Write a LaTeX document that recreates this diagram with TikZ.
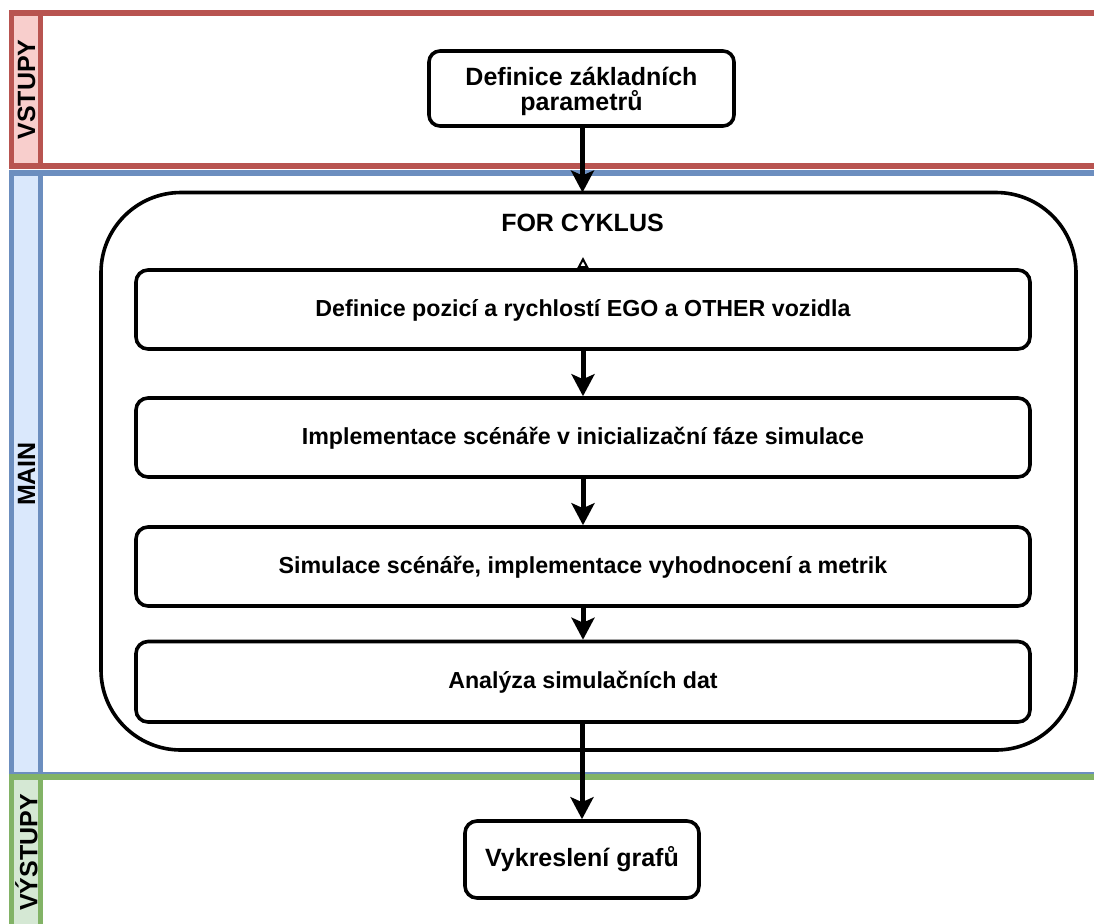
\documentclass[tikz,border=0pt]{standalone}
\usepackage{fontspec}
\setmainfont{Liberation Sans}
\usetikzlibrary{arrows.meta}

\definecolor{inred}{HTML}{B85450}
\definecolor{inredfill}{HTML}{F8CECC}
\definecolor{mainblue}{HTML}{6C8EBF}
\definecolor{mainbluefill}{HTML}{DAE8FC}
\definecolor{outgreen}{HTML}{82B366}
\definecolor{outgreenfill}{HTML}{D5E8D4}

\tikzset{
  laneline/.style={line width=2.75pt},
  lanelabel/.style={rotate=90, font=\bfseries\fontsize{12.5}{13}\selectfont, inner sep=0pt},
  termbox/.style={draw, line width=1.8pt, rounded corners=5.5pt, fill=white,
    align=center, inner sep=0pt, font=\bfseries\fontsize{12.5}{12.7}\selectfont},
  capcentered/.style={text height=0.716em, text depth=0pt},
  stepbox/.style={draw, line width=1.8pt, rounded corners=6pt, fill=white,
    inner sep=0pt, minimum width=447pt, minimum height=39.5pt, capcentered,
    font=\bfseries\fontsize{11.6}{13}\selectfont},
  loopbox/.style={draw, line width=1.8pt, rounded corners=40pt, inner sep=0pt,
    minimum width=487.5pt, minimum height=278.75pt},
  flow/.style={line width=2.5pt, -{Stealth[length=11pt, width=11.5pt, inset=2.5pt]}},
  marker/.style={line width=1pt, -{Triangle[open, length=5.5pt, width=5.5pt]}}
}

\begin{document}
\begin{tikzpicture}[x=0.5pt, y=-0.5pt]
\useasboundingbox (0,0) rectangle (1094,923);
\fill[white] (0,0) rectangle (1094,923);

\begin{scope}
\clip (0,0) rectangle (1094,923);
% swimlanes: white body, tinted header strip
\draw[laneline, draw=inred, fill=white] (11.5,13) rectangle (1120,166);
\draw[laneline, draw=inred, fill=inredfill] (11.5,13) rectangle (40.5,166);
\draw[laneline, draw=mainblue, fill=white] (11.5,173) rectangle (1120,775);
\draw[laneline, draw=mainblue, fill=mainbluefill] (11.5,173) rectangle (40.5,775);
\draw[laneline, draw=outgreen, fill=white] (11.5,777) rectangle (1120,929);
\draw[laneline, draw=outgreen, fill=outgreenfill] (11.5,777) rectangle (40.5,929);
\end{scope}

\node[lanelabel] (lin)   at (26.5,89.5)  {VSTUPY};
\node[lanelabel] (lmain) at (26.5,474)   {MAIN};
\node[lanelabel] (lout)  at (26.5,852.5) {VÝSTUPY};

% input block
\node[termbox, minimum width=152.5pt, minimum height=37.5pt] (params) at (581.5,88.5) {};
\node[font=\bfseries\fontsize{12.5}{12.7}\selectfont, align=center, inner sep=0pt,
  yshift=-1.5pt] (paramstext) at (params.center) {Definice základních\\parametrů};

% loop container
\node[loopbox] (loop) at (588.5,471.25) {};
\node[font=\bfseries\fontsize{12.5}{13}\selectfont, inner sep=0pt, capcentered] (looptitle)
  at (582.5,224.5) {FOR CYKLUS};

% loop steps
\node[stepbox] (s1) at (583,309.5) {Definice pozicí a rychlostí EGO a OTHER vozidla};
\node[stepbox] (s2) at (583,437.5) {Implementace scénáře v inicializační fáze simulace};
\node[stepbox] (s3) at (583,566.5) {Simulace scénáře, implementace vyhodnocení a metrik};
\node[stepbox, minimum height=40.25pt] (s4) at (583,681.75) {Analýza simulačních dat};

% output block
\node[termbox, rounded corners=6pt, capcentered, minimum width=117pt, minimum height=38.5pt]
  (plots) at (582,859.5) {Vykreslení grafů};

% connectors
\coordinate (looptop) at (582.5,192.5);
\coordinate (tip) at (583,257);
\draw[flow] (params.south -| looptop) -- (looptop);
\draw[marker] (s1.north) -- (tip);
\draw[flow] (s1.south) -- (s2.north);
\draw[flow] (s2.south) -- (s3.north);
\draw[flow] (s3.south) -- (s4.north);
\draw[flow] (s4.south -| plots.north) -- (plots.north);
\end{tikzpicture}
\end{document}
